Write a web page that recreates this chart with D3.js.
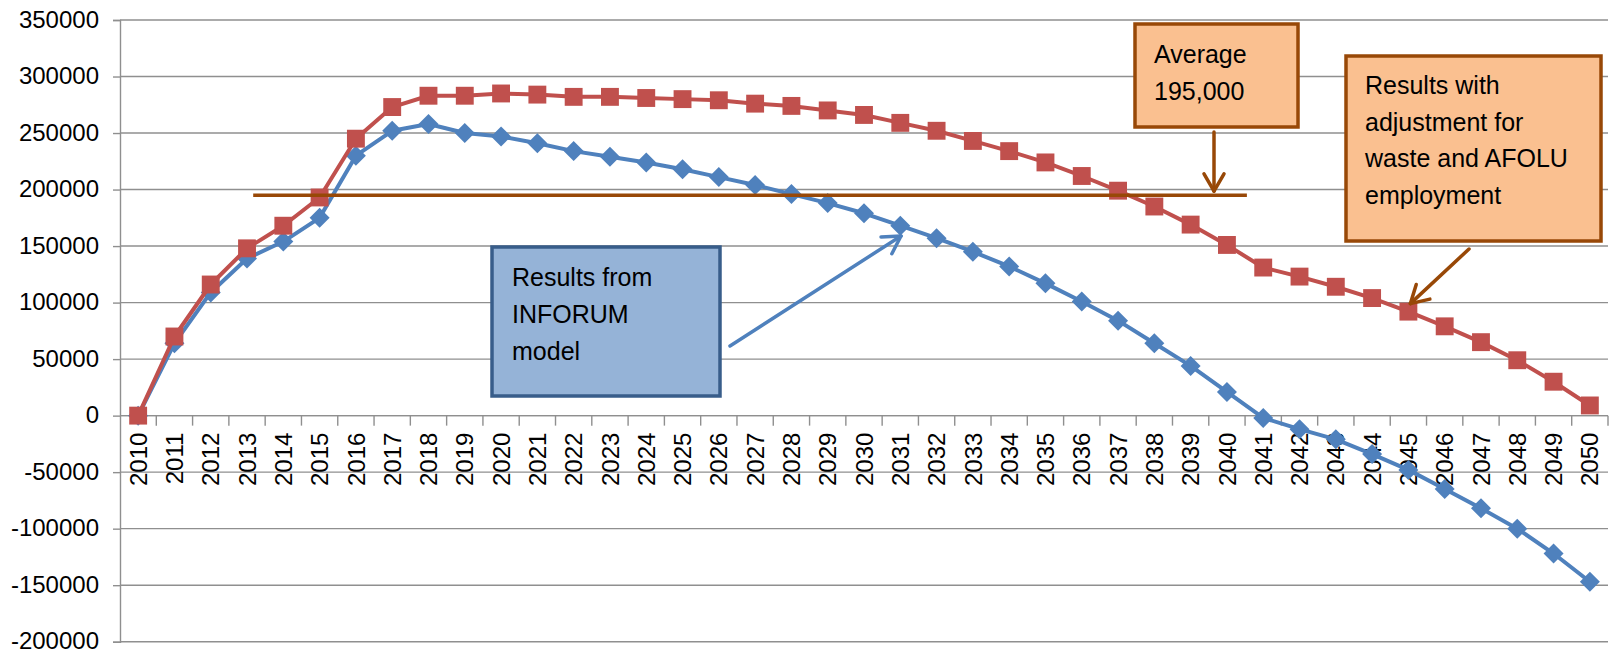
<!DOCTYPE html>
<html>
<head>
<meta charset="utf-8">
<script src="https://cdn.jsdelivr.net/npm/d3@7"></script>
<style>
  html, body { margin: 0; padding: 0; background: #ffffff; }
  svg { display: block; }
  text { font-family: "Liberation Sans", Arial, sans-serif; fill: #000; }
</style>
</head>
<body>
<svg id="chart" width="1614" height="652"></svg>
<script>
// ---- data ----
const years = d3.range(2010, 2051).map(String);
const inforum = [0, 64000, 109000, 139000, 154000, 175000, 230000, 252000, 258000, 250000,
  247000, 241000, 234000, 229000, 224000, 218000, 211000, 204000, 196000, 188000,
  179000, 168000, 157000, 145000, 132000, 117000, 101000, 84000, 64000, 44000,
  21000, -2000, -12000, -21000, -34000, -48000, -65000, -82000, -100000, -122000, -147000];
const adjusted = [0, 70000, 116000, 148000, 168000, 193000, 245000, 273000, 283000, 283000,
  285000, 284000, 282000, 282000, 281000, 280000, 279000, 276000, 274000, 270000,
  266000, 259000, 252000, 243000, 234000, 224000, 212000, 199000, 185000, 169000,
  151000, 131000, 123000, 114000, 104000, 92000, 79000, 65000, 49000, 30000, 9000];
const yTicks = [350000, 300000, 250000, 200000, 150000, 100000, 50000, 0, -50000, -100000, -150000, -200000];
const averageValue = 195000;
const averageLabel = ["Average", "195,000"];
const inforumLabel = ["Results from", "INFORUM", "model"];
const adjustedLabel = ["Results with", "adjustment for", "waste and AFOLU", "employment"];

// ---- layout ----
const svg = d3.select("#chart");
const L = 120, R = 1608, T = 20, B = 641.7;
const blue = "#4F81BD", red = "#C0504D", brown = "#984807";

const x = d3.scaleBand().domain(years).range([L, R]).padding(0);
const xc = d => x(d) + x.bandwidth() / 2;
const xi = d3.scaleLinear().domain([-0.5, years.length - 0.5]).range([L, R]); // fractional index
const y = d3.scaleLinear().domain([-200000, 350000]).range([B, T]);

// gridlines
svg.append("g").selectAll("line").data(yTicks).join("line")
  .attr("x1", L).attr("x2", R)
  .attr("y1", d => y(d)).attr("y2", d => y(d))
  .attr("stroke", "#8f8f8f").attr("stroke-width", 1.4);

// y axis
const yAxis = svg.append("g").attr("transform", `translate(${L},0)`)
  .call(d3.axisLeft(y).tickValues(yTicks).tickSize(7).tickPadding(14).tickFormat(d3.format("d")));
yAxis.select(".domain").attr("stroke", "#8f8f8f").attr("stroke-width", 1.4);
yAxis.selectAll(".tick line").attr("stroke", "#8f8f8f").attr("stroke-width", 1.4);
yAxis.selectAll(".tick text").style("font-family", "Liberation Sans, Arial, sans-serif")
  .style("font-size", "24px").attr("fill", "#000").attr("dy", "0.3em")
  .text(d => d < 0 ? "-" + Math.abs(d) : d);

// x axis at zero
const xg = svg.append("g").attr("transform", `translate(0,${y(0)})`);
xg.append("line").attr("x1", L).attr("x2", R).attr("stroke", "#8f8f8f").attr("stroke-width", 1.4);
xg.selectAll("line.tk").data(years).join("line").attr("class", "tk")
  .attr("x1", (d, i) => xi(i + 0.5)).attr("x2", (d, i) => xi(i + 0.5))
  .attr("y1", 0).attr("y2", 10).attr("stroke", "#8f8f8f").attr("stroke-width", 1.4);
xg.selectAll("text").data(years).join("text")
  .attr("transform", d => `translate(${xc(d)},17) rotate(-90)`)
  .attr("text-anchor", "end").attr("dy", "0.36em")
  .style("font-size", "24px").text(d => d);

// series
const diamond = { draw(ctx, size) { const r = Math.sqrt(size / 2);
  ctx.moveTo(0, -r); ctx.lineTo(r, 0); ctx.lineTo(0, r); ctx.lineTo(-r, 0); ctx.closePath(); } };
function drawSeries(vals, color, shape, size) {
  const pts = years.map((yr, i) => [xc(yr), y(vals[i])]);
  svg.append("path").attr("d", d3.line()(pts)).attr("fill", "none")
    .attr("stroke", color).attr("stroke-width", 4).attr("stroke-linejoin", "round");
  svg.append("g").selectAll("path").data(pts).join("path")
    .attr("transform", d => `translate(${d[0]},${d[1]})`)
    .attr("d", d3.symbol().type(shape).size(size)).attr("fill", color);
}
drawSeries(inforum, blue, diamond, 200);
drawSeries(adjusted, red, d3.symbolSquare, 320);

// average line
svg.append("line")
  .attr("x1", xi(3.17)).attr("x2", xi(30.55))
  .attr("y1", y(averageValue)).attr("y2", y(averageValue))
  .attr("stroke", brown).attr("stroke-width", 3.5);

// arrows
function arrow(x1, y1, x2, y2, color) {
  svg.append("line").attr("x1", x1).attr("y1", y1).attr("x2", x2).attr("y2", y2)
    .attr("stroke", color).attr("stroke-width", 3.5).attr("stroke-linecap", "round");
  const a = Math.atan2(y2 - y1, x2 - x1), len = 20, sp = Math.PI / 6;
  const p1 = [x2 - len * Math.cos(a - sp), y2 - len * Math.sin(a - sp)];
  const p2 = [x2 - len * Math.cos(a + sp), y2 - len * Math.sin(a + sp)];
  svg.append("path").attr("d", `M${p1}L${x2},${y2}L${p2}`).attr("fill", "none")
    .attr("stroke", color).attr("stroke-width", 3.5).attr("stroke-linecap", "round").attr("stroke-linejoin", "round");
}

// text boxes
function box(x0, y0, w, h, fill, stroke, lines, tx, ty, lh) {
  svg.append("rect").attr("x", x0).attr("y", y0).attr("width", w).attr("height", h)
    .attr("fill", fill).attr("stroke", stroke).attr("stroke-width", 3.5);
  const t = svg.append("text").style("font-size", "25px");
  lines.forEach((s, i) => t.append("tspan").attr("x", tx).attr("y", ty + i * lh).text(s));
}

box(492, 247, 228, 149, "#95B3D7", "#385D8A", inforumLabel, 512, 286, 37);
arrow(730, 346, 901, 236, blue);

box(1135, 24, 163, 103, "#FAC090", brown, averageLabel, 1154, 63, 37);
arrow(1214, 132, 1214, y(averageValue) - 4, brown);

box(1346, 56, 255, 185, "#FAC090", brown, adjustedLabel, 1365, 94, 36.7);
arrow(1469, 249, xc("2045") + 2, y(adjusted[35]) - 8, brown);
</script>
</body>
</html>
